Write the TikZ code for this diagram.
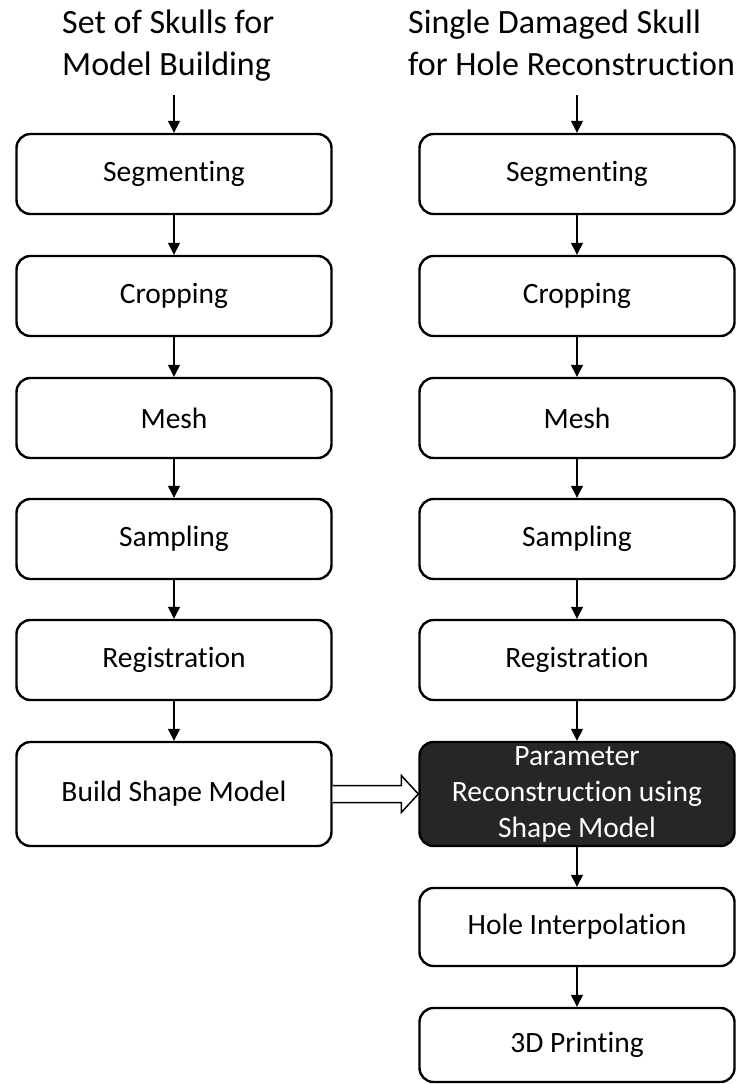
\documentclass[tikz,border=0pt]{standalone}
\usepackage{fontspec}
\setmainfont{Carlito}[Ligatures=NoCommon]
\usetikzlibrary{arrows.meta, positioning, calc}

\begin{document}
\begin{tikzpicture}[x=1pt, y=-1pt,
        stepbox/.style={draw, line width=2.4pt, rounded corners=14pt, fill=white, minimum width=315pt, minimum height=80pt, inner sep=0pt, align=center, font=\fontsize{29.5}{36}\selectfont},
        darkbox/.style={stepbox, fill=black!85, text=white},
        headtext/.style={anchor=base west, inner sep=0pt, align=left, font=\fontsize{34}{42}\selectfont},
        flow/.style={line width=1.3pt, -{Triangle[length=12pt, width=12pt]}}]
        \useasboundingbox (0,0) rectangle (742,1084);

        % Titles
        \node[headtext] (ltitle) at (62, 75) {Set of Skulls for\\Model Building};
        \node[headtext] (rtitle) at (408, 75) {Single Damaged Skull\\for Hole Reconstruction};
        \coordinate (lstart) at (174, 95);
        \coordinate (rstart) at (577, 95);

        % Model building
        \node[stepbox] (lseg) at (174, 174) {Segmenting};
        \node[stepbox] (lcrop) at (174, 296) {Cropping};
        \node[stepbox] (lmesh) at (174, 418) {Mesh};
        \node[stepbox] (lsamp) at (174, 539) {Sampling};
        \node[stepbox] (lreg) at (174, 660) {Registration};
        \node[stepbox, minimum height=104pt] (build) at (174, 794) {Build Shape Model};

        % Hole reconstruction
        \node[stepbox] (rseg) at (577, 174) {Segmenting};
        \node[stepbox] (rcrop) at (577, 296) {Cropping};
        \node[stepbox] (rmesh) at (577, 418) {Mesh};
        \node[stepbox] (rsamp) at (577, 539) {Sampling};
        \node[stepbox] (rreg) at (577, 660) {Registration};
        \node[darkbox, minimum height=104pt] (param) at (577, 794) {Parameter\\Reconstruction using\\Shape Model};
        \node[stepbox, minimum height=78pt] (hole) at (577, 927) {Hole Interpolation};
        \node[stepbox, minimum height=74pt] (print) at (577, 1045) {3D Printing};

        % Arrows
        \draw[flow] (lstart) -- (lseg.north);
        \draw[flow] (lseg) -- (lcrop);
        \draw[flow] (lcrop) -- (lmesh);
        \draw[flow] (lmesh) -- (lsamp);
        \draw[flow] (lsamp) -- (lreg);
        \draw[flow] (lreg) -- (build);
        \draw[flow] (rstart) -- (rseg.north);
        \draw[flow] (rseg) -- (rcrop);
        \draw[flow] (rcrop) -- (rmesh);
        \draw[flow] (rmesh) -- (rsamp);
        \draw[flow] (rsamp) -- (rreg);
        \draw[flow] (rreg) -- (param);
        \draw[flow] (param) -- (hole);
        \draw[flow] (hole) -- (print);

        % Block arrow
        \draw[line width=1.5pt, fill=white] ($(build.east)+(0,-8.5)$) -- ($(param.west)+(-17,-8.5)$) -- ($(param.west)+(-17,-18.5)$) -- (param.west) -- ($(param.west)+(-17,18.5)$) -- ($(param.west)+(-17,8.5)$) -- ($(build.east)+(0,8.5)$);
    \end{tikzpicture}
\end{document}
